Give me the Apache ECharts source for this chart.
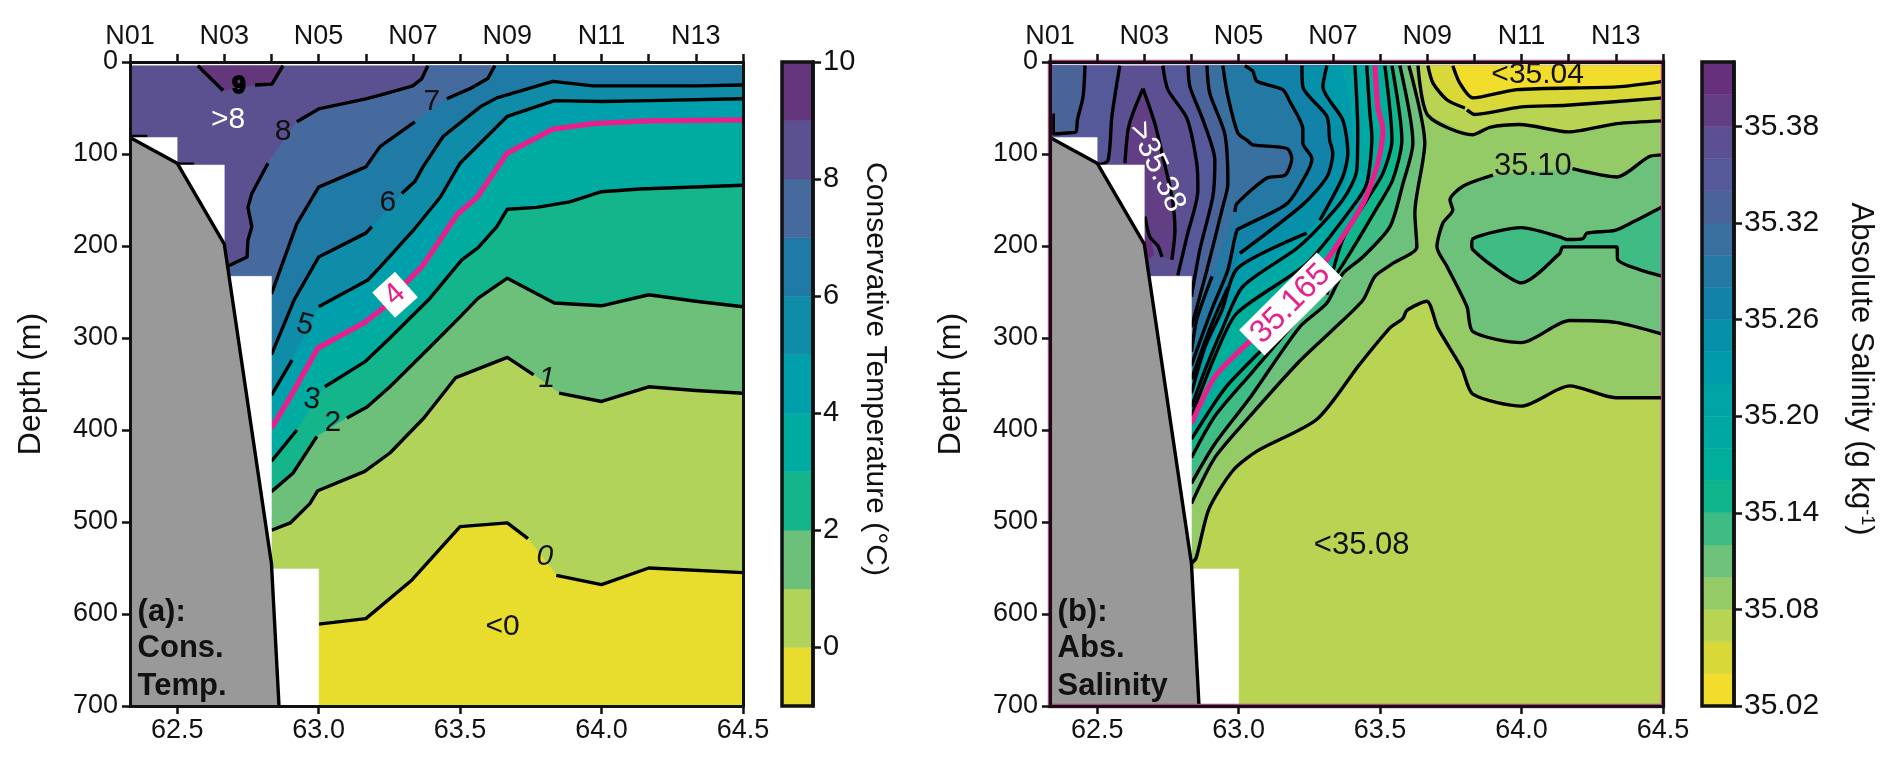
<!DOCTYPE html>
<html><head><meta charset="utf-8"><style>html,body{margin:0;padding:0;background:#fff}#c{width:1892px;height:760px}</style>
<script src="https://cdn.jsdelivr.net/npm/echarts@6/dist/echarts.min.js"></script></head><body><div id="c"></div>
<script>
// --- shared axes values ---
const stationLon=[62.3333,62.5,62.6667,62.8333,63,63.1667,63.3333,63.5,63.6667,63.8333,64,64.1667,64.3333,64.5];
const stationNames=['N01','N02','N03','N04','N05','N06','N07','N08','N09','N10','N11','N12','N13','N14'];
const stationShown=['N01','N03','N05','N07','N09','N11','N13'];
const lonTicks=[62.5,63,63.5,64,64.5];
const depthTicks=[0,100,200,300,400,500,600,700];
const landEdge=[[62.3333,82],[62.5,110],[62.6667,198],[62.8333,545],[62.86,700]];
const noDataEdge=[[62.3333,82],[62.5,82],[62.5,112],[62.6667,112],[62.6667,233],[62.8333,233],[62.8333,551],[63,551],[63,700],[62.3333,700]];
// --- (a) temperature contours: null marks a label gap in the line ---
const t9=[[62.573,4],[62.662,31],null,[62.775,25],[62.835,24],[62.874,4]];
const t8=[[63.386,4],[63.365,18],[63.333,26],[63.217,36],[63.167,40],[63,51],[62.923,65],null,[62.821,110],[62.764,143],[62.75,158],[62.764,179],[62.75,194],[62.747,212],[62.686,221],[62.667,222]];
const t7=[[63.623,4],[63.598,18],[63.535,29],[63.453,40],null,[63.34,65],[63.217,92],[63.167,114],[63,136],[62.923,176],[62.8333,252]];
const t6=[[64.5,25],[64.333,26],[64.167,26],[63.969,26],[63.828,21],[63.63,39],[63.57,49],[63.44,81],[63.369,114],[63.34,130],[63.294,143],null,[63.188,179],[63.167,186],[63,212],[62.913,259],[62.8333,318]];
const t5=[[64.5,40],[64.167,42],[64,43],[63.833,42],[63.667,59],[63.5,110],[63.43,147],[63.34,181],[63.217,223],[63.174,237],[63,266],null,[62.906,324],[62.8333,362]];
const t4=[[64.5,63],[64.167,64],[63.969,67],[63.828,73],[63.667,99],[63.56,147],[63.489,166],[63.369,221],[63.312,239],[63.234,266],[63.163,283],[62.997,311],[62.9,364],[62.8333,398]];
const t3=[[64.5,134],[64.135,138],[64,141],[63.888,152],[63.771,158],[63.667,160],[63.63,179],[63.563,202],[63.506,215],[63.393,257],[63.252,300],[63.163,326],[63.022,353],null,[62.923,400],[62.8333,434]];
const t2=[[64.5,266],[64.333,260],[64.167,253],[64,265],[63.833,262],[63.667,235],[63.563,257],[63.5,277],[63.393,310],[63.252,353],[63.171,375],[63.1,387],null,[62.994,407],[62.909,447],[62.8333,467]];
const t1=[[64.5,360],[64.333,357],[64.167,353],[64,369],[63.85,360],null,[63.76,340],[63.667,321],[63.485,343],[63.372,387],[63.252,425],[63.163,445],[62.997,466],[62.969,480],[62.9,501],[62.8333,509]];
const t0=[[64.5,555],[64.167,550],[64,568],[63.84,558],null,[63.74,518],[63.667,501],[63.5,505],[63.33,563],[63.167,605],[63,611]];
const shelfDashA=[[62.3333,81],[62.395,81]];
const shelfDashB=[[62.5,111],[62.56,111]];
const tempLevels=[-1,0,1,2,3,4,5,6,7,8,9,10];
const tempTicks=[0,2,4,6,8,10];
// --- (b) salinity contours ---
const sPatch=[[62.457,4],[62.45,38],[62.43,63],[62.425,76],[62.40,77],[62.358,78],[62.345,78],[62.345,56],null,[62.335,4]];
const sA=[[62.58,4],[62.552,59],[62.538,107],[62.5,112]];
const sInner=[[62.662,29],[62.704,67],[62.732,103],[62.764,146],[62.775,183],[62.764,215],null,[62.729,212],[62.715,200],[62.686,190],[62.669,168],null,[62.598,110],[62.609,74],[62.626,56],[62.662,29]];
const sDark=[[62.669,170],[62.69,192],[62.70,210],[62.68,215],[62.669,215],[62.669,170]];
const s36=[[62.732,4],[62.75,30],[62.817,61],[62.852,110],[62.856,139],[62.817,190],[62.785,232]];
const s34=[[62.821,4],[62.828,27],[62.874,63],[62.916,107],[62.909,146],[62.863,204],[62.8333,255]];
const s32=[[62.888,4],[62.898,34],[62.951,78],[62.962,132],[62.941,161],[62.888,226],[62.8333,288]];
const s30=[[62.944,4],[62.962,37],[62.997,77],[63.029,85],[63.05,90],[63.171,94],[63.188,105],[63.164,123],[63.1,126],[62.994,154],[62.987,163],null,[62.906,233],[62.852,280],[62.8333,315]];
const s28=[[63.022,4],[63.05,10],[63.065,21],[63.156,30],[63.181,43],[63.227,73],[63.227,88],[63.259,105],[63.241,121],[63.171,154],[63.015,179],[62.994,183],[62.962,226],[62.909,266],[62.856,310],[62.8333,330]];
const s26=[[63.224,4],[63.227,27],[63.312,59],[63.322,85],[63.333,99],[63.312,125],[63.227,155],[63.004,208],null,[62.962,245],[62.898,290],[62.8333,345]];
const s24=[[63.312,4],[63.298,27],[63.368,63],[63.386,99],[63.368,125],[63.287,172],null,[63.241,186],[62.997,224],[62.941,270],[62.881,310],[62.8333,360]];
const s22=[[63.365,4],[63.393,41],[63.404,81],[63.382,132],[63.312,168],[63.1,219],[62.962,265],[62.891,315],[62.8333,368]];
const s20=[[63.411,4],[63.421,74],[63.418,117],[63.368,150],[63.216,200],[63.015,244],[62.941,291],[62.881,335],[62.8333,375]];
const s18=[[63.453,4],[63.464,56],[63.471,81],[63.453,132],[63.404,157],[63.241,219],[62.994,273],[62.916,320],[62.8333,385]];
const s165=[[63.482,4],[63.492,49],[63.51,74],[63.492,110],[63.439,154],[63.312,215],[63.184,263],[63.02,309],[62.916,342],[62.8333,393]];
const s16=[[63.517,4],[63.542,85],[63.51,121],[63.453,150],[63.368,193],[63.312,253],null,[63.206,275],[63.075,315],[62.951,355],[62.8333,410]];
const s14=[[63.542,4],[63.577,85],[63.545,128],[63.492,157],[63.393,208],[63.322,241],[63.216,277],[63.04,340],[62.916,385],[62.8333,430]];
const s12=[[63.57,4],[63.616,88],[63.581,132],[63.535,179],[63.439,212],[63.368,230],[63.312,262],[63.216,288],[63.04,365],[62.916,415],[62.8333,458]];
const s10=[[63.602,4],[63.658,88],[63.623,164],[63.63,201],[63.545,219],[63.482,233],[63.439,259],[63.333,291],[63.216,325],[63.04,385],[62.916,430],[62.8333,480]];
const s10East=[[64.5,101],[64.45,103],[64.337,125],[64.18,116],null,[63.899,123],[63.793,135],[63.747,150],[63.757,161],[63.722,175],[63.701,201],[63.736,222],[63.807,266],[63.828,293],[64,305],[64.17,281],[64.333,283],[64.5,296]];
const s12East=[[64.5,157],[64.393,174],[64.33,183],[64.231,186],[64.217,192],[64.16,193],[64.135,190],[64,180],[63.828,192],[63.824,200],[63.828,204],[63.899,222],[64,240],[64.135,208],[64.146,201],[64.337,201],[64.34,215],[64.5,233]];
const s08Deep=[[64.5,365],[64.333,365],[64.17,352],[64,374],[63.828,361],[63.789,333],[63.704,289],[63.665,260],[63.595,270],[63.58,279],[63.535,289],[63.427,329],[63.278,388],[63.065,423],[62.98,444],[62.895,486],[62.85,539],[62.8333,545]];
const s08Top=[[63.634,4],[63.669,58],[63.828,79],[63.888,71],[63.994,68],[64.167,76],[64.337,67],[64.5,64]];
const s06Top=[[63.669,4],[63.687,23],[63.736,41],[63.80,50],null,[63.807,52],[63.835,57],[63.994,49],[64.16,47],[64.5,39]];
const s04Top=[[63.757,4],[63.782,23],[63.828,39],[63.983,30],[64.337,27],[64.5,21]];
const salLevels=[35.02,35.04,35.06,35.08,35.10,35.12,35.14,35.16,35.18,35.20,35.22,35.24,35.26,35.28,35.30,35.32,35.34,35.36,35.38,35.40,35.42];
const salTicks=[35.02,35.08,35.14,35.20,35.26,35.32,35.38];
// --- styles ---
const tempColors=['#E8DC2C','#B2D35A','#6DC07A','#15B58C','#00ACA0','#009FAC','#0F8CA8','#1F7AA5','#476A9E','#5C5190','#64367C'];
const salColors=['#F2DC2C','#D8D838','#B9D453','#94CB66','#6EC17A','#3FBC84','#10B58C','#00AE9C','#00A8A3','#00A3A6','#009BAB','#0790AA','#1282A8','#2379A4','#3A709F','#4A649A','#55599A','#5D5092','#623F84','#66307C'];
const FONT='"Liberation Sans",Arial,sans-serif', FS=27, LS=30, BLK='#111', PINK='#E8208C';
const G={a:{left:130,w:613,top:62,h:644},b:{left:1050,w:613,top:62,h:644},ca:{left:782,w:31},cb:{left:1702,w:32}};
const tc=i=>tempColors[i], sc=v=>salColors[salLevels.indexOf(v)];
const clean=p=>p.filter(Boolean);
const XMAX=64.5,DMAX=700,DTOP=4,XMIN=62.3333;
function below(p){const c=clean(p),l=c[c.length-1];return c.concat([[l[0],DMAX],[XMAX,DMAX],[XMAX,DTOP]]);}
function above(p){return clean(p).concat([[XMAX,DTOP]]);}
function left(p){const c=clean(p),l=c[c.length-1];return c.concat([[XMIN,l[1]],[XMIN,DTOP]]);}
const whole=[[XMIN,DTOP],[XMAX,DTOP],[XMAX,DMAX],[XMIN,DMAX]];
function poly(points,color,ax,z){return {type:'custom',xAxisIndex:ax,yAxisIndex:ax,z:z||2,silent:true,clip:true,data:[[0]],animation:false,
  renderItem:(ps,api)=>({type:'polygon',shape:{points:points.map(q=>api.coord(q))},style:{fill:color,stroke:color,lineWidth:.5}})};}
function lines(p,ax,color,width,z,smooth){const segs=[];let cur=[];p.forEach(q=>{if(q)cur.push(q);else{segs.push(cur);cur=[];}});segs.push(cur);
  return segs.filter(s=>s.length>1).map(s=>({type:'line',xAxisIndex:ax,yAxisIndex:ax,data:s,showSymbol:false,symbol:'none',z:z||3,silent:true,animation:false,smooth:smooth||false,
    lineStyle:{color:color||'#000',width:width||3.4,join:'round'}}));}
function texts(list,ax){return {type:'custom',xAxisIndex:ax,yAxisIndex:ax,z:8,silent:true,clip:false,animation:false,data:list.map((d,i)=>[d.p[0],d.p[1],i]),
  renderItem:(ps,api)=>{const d=list[ps.dataIndex],c=api.coord(d.p);
   return {type:'text',x:c[0],y:c[1],rotation:(d.r||0)*Math.PI/180,style:{text:d.t,fill:d.c||'#111',font:(d.st||'')+' '+(d.fs||LS)+'px '+FONT,align:d.al||'center',verticalAlign:'middle',
     backgroundColor:d.bg,padding:d.bg?(d.pad||[1,5]):0,stroke:d.sw?(d.c||'#000'):undefined,lineWidth:d.sw||0}};}};}
function panelAxes(){const common={min:XMIN,max:XMAX,type:'value',splitLine:{show:false},z:10};
  return g=>[
   {...common,gridIndex:g,position:'bottom',axisLine:{onZero:false,lineStyle:{color:BLK,width:3}},axisTick:{customValues:lonTicks,length:8,lineStyle:{color:BLK,width:2.5},inside:false},
    axisLabel:{customValues:lonTicks,margin:11,fontSize:FS,fontFamily:FONT,color:BLK,formatter:v=>v.toFixed(1)}},
   {...common,gridIndex:g,position:'top',axisLine:{onZero:false,lineStyle:{color:BLK,width:3}},axisTick:{customValues:stationLon,length:8,lineStyle:{color:BLK,width:2.5}},
    axisLabel:{customValues:stationLon.filter((v,k)=>stationShown.includes(stationNames[k])),margin:12,fontSize:FS,fontFamily:FONT,color:BLK,
     formatter:v=>{let b=0;stationLon.forEach((s,k)=>{if(Math.abs(s-v)<Math.abs(stationLon[b]-v))b=k;});return stationNames[b];}}}];}
function depthAxes(gi){const common={gridIndex:gi,min:0,max:700,inverse:true,type:'value',splitLine:{show:false},z:10};
  return [{...common,position:'left',interval:100,axisLine:{onZero:false,lineStyle:{color:BLK,width:3}},axisTick:{length:8,lineStyle:{color:BLK,width:2.5}},
     axisLabel:{margin:12,fontSize:FS,fontFamily:FONT,color:BLK},name:'Depth (m)',nameLocation:'middle',nameGap:83,nameRotate:90,nameTextStyle:{fontSize:32,fontFamily:FONT,color:BLK}},
   {...common,position:'right',axisLine:{onZero:false,lineStyle:{color:BLK,width:3}},axisTick:{show:false},axisLabel:{show:false}}];}
const px=panelAxes();
const option={animation:false,backgroundColor:'#fff',
 grid:[{left:G.a.left,width:G.a.w,top:G.a.top,height:G.a.h},{left:G.b.left,width:G.b.w,top:G.b.top,height:G.b.h},
  {left:G.ca.left,width:G.ca.w,top:62,height:644},{left:G.cb.left,width:G.cb.w,top:62,height:644}],
 xAxis:[...px(0),...px(1),
  {gridIndex:2,type:'value',min:0,max:1,show:false},{gridIndex:3,type:'value',min:0,max:1,show:false}],
 yAxis:[...depthAxes(0),...depthAxes(1),
  {gridIndex:2,type:'value',min:-1,max:10,position:'right',z:10,splitLine:{show:false},axisLine:{onZero:false,lineStyle:{color:BLK,width:3.5}},
   axisTick:{customValues:tempTicks,length:8,lineStyle:{color:BLK,width:2.5}},axisLabel:{customValues:tempTicks,margin:10,fontSize:29,fontFamily:FONT,color:BLK},
   name:'Conservative Temperature (°C)',nameLocation:'middle',nameGap:47,nameRotate:-90,nameTextStyle:{fontSize:30,fontFamily:FONT,color:BLK,padding:[0,30,0,0]}},
  {gridIndex:3,type:'value',min:35.02,max:35.42,position:'right',z:10,splitLine:{show:false},axisLine:{onZero:false,lineStyle:{color:BLK,width:3.5}},
   axisTick:{customValues:salTicks,length:8,lineStyle:{color:BLK,width:2.5}},axisLabel:{customValues:salTicks,margin:10,fontSize:30,fontFamily:FONT,color:BLK,formatter:v=>v.toFixed(2)},
   name:'Absolute Salinity (g kg{sup|-1})',nameLocation:'middle',nameGap:111,nameRotate:-90,
   nameTextStyle:{fontSize:31,fontFamily:FONT,color:BLK,padding:[0,30,0,0],rich:{sup:{fontSize:18,fontFamily:FONT,color:BLK,verticalAlign:'top',padding:[0,0,10,0]}}}}],
 series:[]};
const S=option.series;
// panel a fills
[[whole,tc(9)],[t9,tc(10)],[below(t8),tc(8)],[below(t7),tc(7)],[below(t6),tc(6)],[below(t5),tc(5)],[below(t4),tc(4)],[below(t3),tc(3)],[below(t2),tc(2)],[below(t1),tc(1)],[below(t0),tc(0)]]
 .forEach(f=>S.push(poly(clean(f[0]),f[1],0)));
[t9,t8,t7,t6,t5,t3,t2,t1,t0,shelfDashA,shelfDashB].forEach(c=>S.push(...lines(c,0)));
S.push(...lines(t4,0,PINK,5.2));
// panel b fills (axis index 2)
[[whole,sc(35.36)],[left(sA),sc(35.34)],[sPatch,sc(35.32)],[sInner,sc(35.38)],[sDark,sc(35.40)],
 [below(s36),sc(35.34)],[below(s34),sc(35.32)],[below(s32),sc(35.30)],[below(s30),sc(35.28)],[below(s28),sc(35.26)],[below(s26),sc(35.24)],[below(s24),sc(35.22)],[below(s22),sc(35.20)],[below(s20),sc(35.18)],[below(s18),sc(35.16)],[below(s16),sc(35.14)],[below(s14),sc(35.12)],[below(s12),sc(35.10)],[below(s10),sc(35.08)],
 [s10East,sc(35.10)],[s12East,sc(35.12)],[below(s08Deep),sc(35.06)],[above(s08Top),sc(35.06)],[above(s06Top),sc(35.04)],[above(s04Top),sc(35.02)]]
 .forEach(f=>S.push(poly(clean(f[0]),f[1],2)));
[sA,sPatch,sInner,s36,s34,s32,s30,s28,s26,s24,s20,s18,s16,s14,s12,s10,s10East,s12East,s08Deep,s08Top,s06Top,s04Top].forEach(c=>S.push(...lines(c,2,'#000',3.4,3,0.25)));
S.push(...lines(s165,2,PINK,5.2,3,0.25));
// no-data mask and land in both panels
[0,2].forEach(ax=>{S.push(poly(noDataEdge,'#fff',ax,5));
 S.push(poly(landEdge.concat([[XMIN,700]]),'#999999',ax,6));
 S.push(...lines(landEdge,ax,'#000',3.4,7));});
// labels
S.push(texts([
 {p:[62.68,63],t:'>8',c:'#fff'},{p:[62.874,76],t:'8'},{p:[63.40,43],t:'7'},{p:[63.245,153],t:'6'},{p:[62.952,286],t:'5',r:-15},
 {p:[63.27,253],t:'4',c:PINK,bg:'#fff',r:42,pad:[2,7]},{p:[62.976,367],t:'3',r:-8},{p:[63.05,392],t:'2'},
 {p:[63.807,344],t:'1',st:'italic'},{p:[63.8,538],t:'0',st:'italic'},{p:[63.65,614],t:'<0'},{p:[62.718,27],t:'9',st:'bold',fs:24,sw:2,c:'#000'},
 {p:[62.36,598],t:'(a):',st:'bold',al:'left',fs:31},{p:[62.36,637],t:'Cons.',st:'bold',al:'left',fs:31},{p:[62.36,679],t:'Temp.',st:'bold',al:'left',fs:31}],0));
S.push(texts([
 {p:[62.711,114],t:'>35.38',c:'#fff',r:-65,fs:31},{p:[63.184,263],t:'35.165',c:PINK,bg:'#fff',r:45,pad:[2,6],fs:32},
 {p:[64.057,14],t:'<35.04',fs:30},{p:[64.04,114],t:'35.10',fs:31},{p:[63.435,525],t:'<35.08',fs:31},
 {p:[62.36,598],t:'(b):',st:'bold',al:'left',fs:31},{p:[62.36,637],t:'Abs.',st:'bold',al:'left',fs:31},{p:[62.36,679],t:'Salinity',st:'bold',al:'left',fs:31}],2));
// colour bars
function bar(levels,colors,gi){return {type:'custom',xAxisIndex:gi,yAxisIndex:gi,z:2,silent:true,animation:false,data:colors.map((c,i)=>[levels[i],levels[i+1],i]),
 renderItem:(ps,api)=>{const a=api.coord([0,api.value(0)]),b=api.coord([1,api.value(1)]);
  return {type:'rect',shape:{x:a[0],y:b[1],width:b[0]-a[0],height:a[1]-b[1]},style:{fill:colors[ps.dataIndex],stroke:colors[ps.dataIndex],lineWidth:.5}};}};}
S.push(bar(tempLevels,tempColors,4),bar(salLevels,salColors,5));
// frames: colour bars in black, panel (b) with its pink edge under the axes
function frame(gi,x0,x1,d0,d1,color,w){return {type:'custom',xAxisIndex:gi,yAxisIndex:gi,z:9,silent:true,clip:false,animation:false,data:[[0]],
 renderItem:(ps,api)=>{const a=api.coord([x0,d0]),b=api.coord([x1,d1]);return {type:'rect',shape:{x:a[0],y:Math.min(a[1],b[1]),width:b[0]-a[0],height:Math.abs(a[1]-b[1])},style:{fill:'none',stroke:color,lineWidth:w}};}};}
S.push(frame(4,0,1,-1,10,BLK,3.5),frame(5,0,1,35.02,35.42,BLK,3.5),frame(2,XMIN,XMAX,0,700,'#B0408A',4.4));
echarts.init(document.getElementById('c'),null,{renderer:'canvas'}).setOption(option);
</script></body></html>
